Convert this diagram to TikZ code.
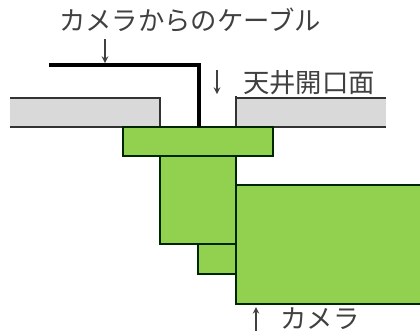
\documentclass[tikz,border=0pt]{standalone}
\usepackage{fontspec}
\newfontfamily\cjk{Noto Sans CJK JP}
\definecolor{cameragreen}{HTML}{92D050}
\definecolor{ceilinggray}{HTML}{D9D9D9}
\definecolor{labelgray}{HTML}{404040}
\tikzset{
  camerabox/.style={draw=black!85!green, line width=0.65pt, fill=cameragreen},
  ceilingline/.style={draw=black!80, line width=0.65pt},
  notelabel/.style={text=labelgray, font=\cjk\fontsize{15}{17}\selectfont, inner sep=0pt},
  notearrow/.style={->, >=stealth, draw=labelgray, line width=0.7pt}
}
\begin{document}
\begin{tikzpicture}[x=0.02cm, y=-0.02cm]
  \useasboundingbox (0,0) rectangle (420,332);

  % Ceiling
  \fill[ceilinggray] (10,98) rectangle (160,127);
  \fill[ceilinggray] (236,98) rectangle (386,127);
  \draw[ceilingline] (10,98) -- (161,98) (160,97) -- (160,127);
  \draw[ceilingline] (386,98) -- (235,98) (236,96) -- (236,127);
  \draw[ceilingline] (10,127) -- (386,127);

  % Camera body
  \draw[camerabox] (123,127) rectangle (273,156);
  \draw[camerabox] (160,156) rectangle (236,244);
  \draw[camerabox] (198,244) rectangle (236,274);
  \fill[cameragreen] (236,185) rectangle (420,304);
  \draw[camerabox, fill=none] (420,185) -- (236,185) -- (236,304) -- (420,304);

  % Cable
  \draw[line width=2.6pt] (49,65) -- (199,65) -- (199,127);

  % Labels
  \node[notelabel] (cablelabel) at (190,20) {カメラからのケーブル};
  \node[notelabel] (openinglabel) at (309,83) {天井開口面};
  \node[notelabel] (cameralabel) at (320,319) {カメラ};

  % Arrows
  \coordinate (cabletop) at (105,39);
  \coordinate (cableend) at (105,63);
  \coordinate (openingtop) at (217,70);
  \coordinate (openingend) at (217,94);
  \coordinate (camerabottom) at (256,331);
  \coordinate (cameraend) at (256,307);
  \draw[notearrow] (cabletop) -- (cableend);
  \draw[notearrow] (openingtop) -- (openingend);
  \draw[notearrow] (camerabottom) -- (cameraend);
\end{tikzpicture}
\end{document}
